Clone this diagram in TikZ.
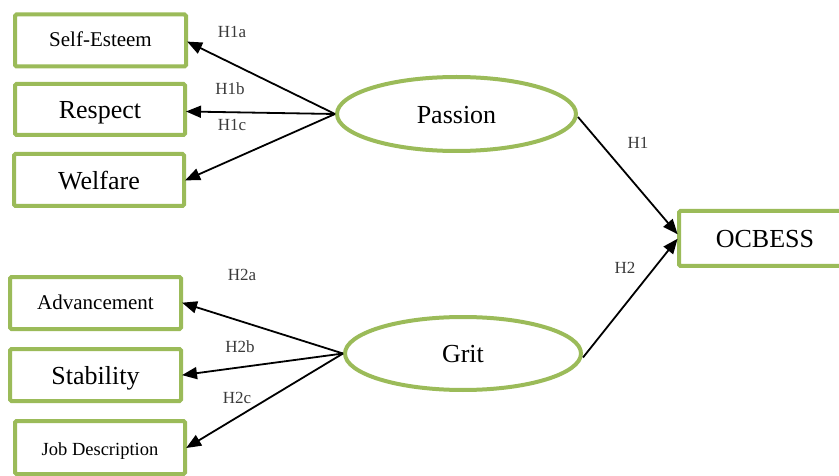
\documentclass[tikz,border=0pt]{standalone}
\usepackage{fontspec}
\setmainfont{Liberation Serif}
\usetikzlibrary{shapes.geometric,arrows.meta}
\definecolor{leaf}{HTML}{9BBB59}
\definecolor{hyp}{HTML}{3A3A3A}
\tikzset{
  varbox/.style={draw=leaf, line width=4pt, rounded corners=1.5pt, fill=white,
    inner sep=0pt, minimum height=52pt},
  latent/.style={ellipse, draw=leaf, line width=4pt, fill=white, inner sep=0pt},
  link/.style={line width=1.8pt, -{Triangle[length=15pt,width=12pt]}, shorten >=-1pt},
  hlabel/.style={text=hyp, font=\fontsize{17}{19}\selectfont, inner sep=0pt},
  big/.style={font=\fontsize{26}{30}\selectfont, text height=20.5pt, text depth=2pt},
  mid/.style={font=\fontsize{21}{24}\selectfont, text height=16pt, text depth=3pt},
  small/.style={font=\fontsize{18.5}{21}\selectfont, text height=17pt, text depth=1pt},
}
\begin{document}
\begin{tikzpicture}[x=1pt,y=-1pt]
  \useasboundingbox (0,0) rectangle (839,476);
  \clip (0,0) rectangle (839,476);

  % indicator boxes of Passion
  \node[varbox, minimum width=171pt, mid] (se) at (100.5,40.5) {Self-Esteem};
  \node[varbox, minimum width=170pt, minimum height=51pt, big] (re) at (100,109.5) {Respect};
  \node[varbox, minimum width=170pt, big] (we) at (99,180) {Welfare};

  % indicator boxes of Grit
  \node[varbox, minimum width=171pt, mid] (ad) at (95.5,303) {Advancement};
  \node[varbox, minimum width=171pt, big] (st) at (95.5,375) {Stability};
  \node[varbox, minimum width=170pt, minimum height=53pt, small] (jd) at (100,447.5) {Job Description};

  % latent constructs
  \node[latent, minimum width=239pt, minimum height=74pt, big] (pa) at (456.5,114) {Passion};
  \node[latent, minimum width=236pt, minimum height=73pt, big] (gr) at (463,353.5) {Grit};

  % outcome
  \node[varbox, minimum width=172pt, minimum height=55pt, big] (oc) at (765,238.5) {OCBESS};

  % paths from Passion
  \draw[link] (pa.west) -- ([yshift=-1.5pt]se.east);
  \draw[link] (pa.west) -- ([yshift=-2pt]re.east);
  \draw[link] (pa.west) -- (we.east);

  % paths from Grit
  \draw[link] (gr.west) -- (ad.east);
  \draw[link] (gr.west) -- (st.east);
  \draw[link] (gr.west) -- (jd.east);

  % structural paths
  \draw[link] ([yshift=-3pt]pa.east) -- ([yshift=5pt]oc.west);
  \draw[link] ([yshift=-4pt]gr.east) -- ([yshift=-1pt]oc.west);

  % hypothesis labels
  \node[hlabel] (l1a) at (232,32) {H1a};
  \node[hlabel] (l1b) at (230,89) {H1b};
  \node[hlabel] (l1c) at (232,125) {H1c};
  \node[hlabel] (l2a) at (242,275) {H2a};
  \node[hlabel] (l2b) at (240,347) {H2b};
  \node[hlabel] (l2c) at (237,398) {H2c};
  \node[hlabel] (l1) at (638,143) {H1};
  \node[hlabel] (l2) at (625,268) {H2};
\end{tikzpicture}
\end{document}
